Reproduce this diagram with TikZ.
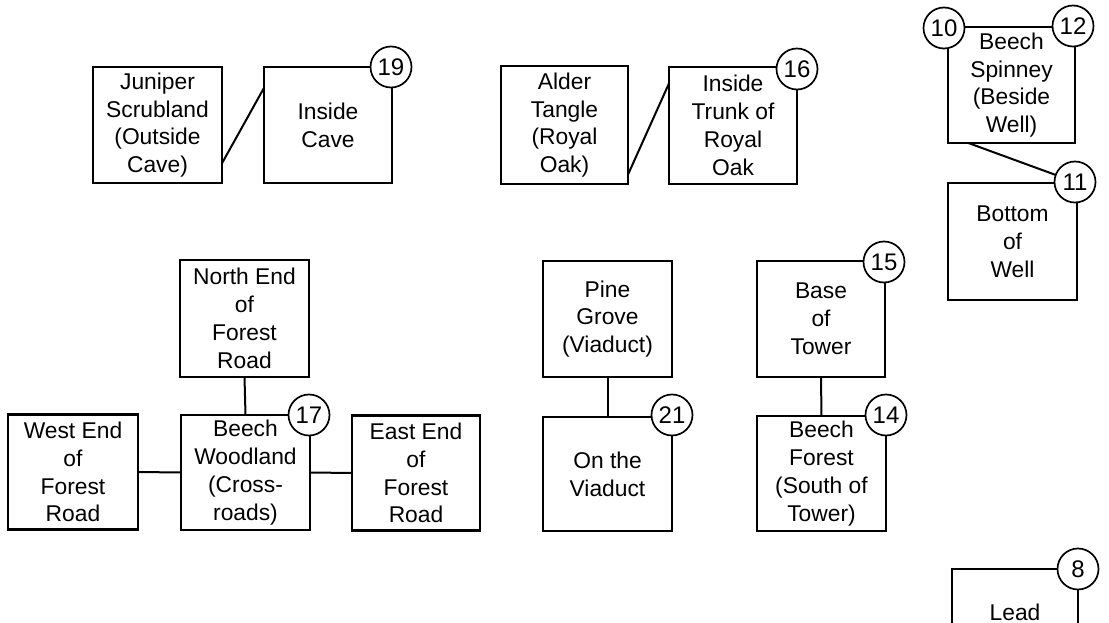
\documentclass[tikz,border=0pt]{standalone}
\usepackage{fontspec}
\setmainfont{Liberation Sans}
\usetikzlibrary{calc}
\begin{document}
\begin{tikzpicture}[x=1pt,y=-1pt,
  box/.style={draw, line width=2.2pt, rectangle, inner sep=0pt, outer sep=0pt, align=center,
              font=\fontsize{22.8}{27.8}\selectfont},
  num/.style={draw, circle, line width=1.7pt, fill=white, minimum size=41pt, inner sep=0pt,
              outer sep=0pt, font=\fontsize{24}{24}\selectfont},
  link/.style={line width=2pt},
  lbl/.style={inner sep=0pt, font=\fontsize{22.8}{27.8}\selectfont}]
\useasboundingbox (0,0) rectangle (1109,623);
\fill[white] (0,0) rectangle (1109,623);

% top row
\node[box, minimum width=129pt, minimum height=116pt] (juniper) at (157.5,125) {Juniper\\Scrubland\\(Outside\\Cave)};
\node[box, minimum width=128pt, minimum height=116pt] (cave) at (328,125) {Inside\\Cave};
\node[box, minimum width=127pt, minimum height=118pt] (alder) at (564.5,125) {Alder\\Tangle\\(Royal\\Oak)};
\node[box, minimum width=128pt, minimum height=117pt] (trunk) at (733,125.5) {Inside\\Trunk of\\Royal\\Oak};

% well
\node[box, minimum width=127pt, minimum height=116pt] (spinney) at (1011.5,85) {Beech\\Spinney\\(Beside\\Well)};
\node[box, minimum width=129pt, minimum height=117pt] (well) at (1012.5,241.5) {Bottom\\of\\Well};

% crossroads
\node[box, minimum width=129pt, minimum height=117pt] (north) at (244.5,318.5) {North End\\of\\Forest\\Road};
\node[box, minimum width=129pt, minimum height=115pt] (woodland) at (245.5,472.5) {Beech\\Woodland\\(Cross-\\roads)};
\node[box, minimum width=130pt, minimum height=115pt] (west) at (73,472) {West End\\of\\Forest\\Road};
\node[box, minimum width=128pt, minimum height=115pt] (east) at (416,473) {East End\\of\\Forest\\Road};

% viaduct
\node[box, minimum width=129pt, minimum height=116pt] (pine) at (607.5,319) {Pine\\Grove\\(Viaduct)};
\node[box, minimum width=129pt, minimum height=114pt] (viaduct) at (607.5,474) {On the\\Viaduct};

% tower
\node[box, minimum width=128pt, minimum height=116pt] (tower) at (821,319) {Base\\of\\Tower};
\node[box, minimum width=129pt, minimum height=115pt] (forest) at (821.5,473.5) {Beech\\Forest\\(South of\\Tower)};

% lead
\node[box, minimum width=126pt, minimum height=116pt, anchor=north] (lead) at (1015,569) {};
\node[lbl, anchor=base] (leadtext) at (1015,620) {Lead};

% connectors
\draw[link] ($(juniper.south east)!0.17!(juniper.north east)$) -- ($(cave.north west)!0.18!(cave.south west)$);
\draw[link] ($(alder.south east)!0.08!(alder.north east)$) -- ($(trunk.north west)!0.14!(trunk.south west)$);
\draw[link] (north.south) -- (woodland.north);
\draw[link] (west.east) -- (woodland.west);
\draw[link] (woodland.east) -- (east.west);
\draw[link] (pine.south) -- (viaduct.north);
\draw[link] (tower.south) -- (forest.north);

% numbers
\node[num] (n19) at (391,67) {19};
\node[num] (n16) at (797,69) {16};
\node[num] (n10) at (944,28) {10};
\node[num] (n12) at (1073,26) {12};
\node[num] (n11) at (1075,182) {11};
\node[num] (n17) at (309,415) {17};
\node[num] (n21) at (672,415) {21};
\node[num] (n15) at (884,262) {15};
\node[num] (n14) at (886,415) {14};
\node[num] (n8) at (1078,569) {8};

\draw[link] ($(spinney.south west)!0.16!(spinney.south east)$) -- (n11);
\end{tikzpicture}
\end{document}
